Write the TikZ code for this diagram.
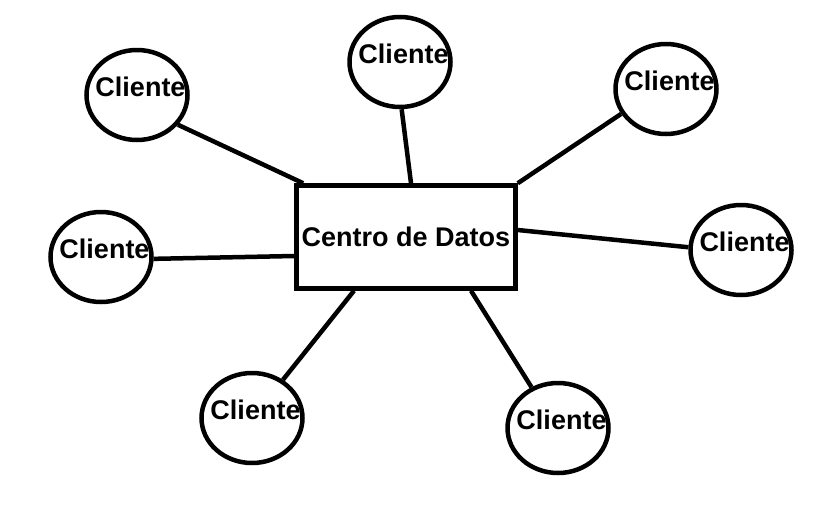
\documentclass[tikz,border=0pt]{standalone}
\usepackage{fontspec}
\setmainfont{Liberation Sans}
\usetikzlibrary{shapes.geometric}

\begin{document}
\begin{tikzpicture}[x=1pt, y=-1pt, line width=4.5pt,
    client/.style={draw, ellipse, minimum width=101pt, minimum height=90pt, inner sep=0pt,
        label={[xshift=3.5pt, yshift=8pt, font=\bfseries\fontsize{27}{30}\selectfont]center:Cliente}},
    dcbox/.style={draw, rectangle, minimum width=219pt, minimum height=103pt, inner sep=0pt,
        font=\bfseries\fontsize{27}{30}\selectfont}]
    \useasboundingbox (0,0) rectangle (827,517);

    % Centro de datos
    \node[dcbox] (dc) at (406,237) {Centro de Datos};

    % Clientes
    \node[client] (cl1) at (137,95) {};
    \node[client] (cl2) at (400,62) {};
    \node[client] (cl3) at (666,89) {};
    \node[client] (cl4) at (101,257) {};
    \node[client] (cl5) at (741,250) {};
    \node[client] (cl6) at (252,418) {};
    \node[client] (cl7) at (558,428) {};

    % Conexiones
    \draw (cl1.-36) -- ([xshift=9pt]dc.north west);
    \draw (cl2.-88) -- ([xshift=5pt]dc.north);
    \draw (cl3.-151) -- (dc.north east);
    \draw (cl4.-2) -- ([yshift=-19pt]dc.west);
    \draw (cl5.177) -- ([yshift=7pt]dc.east);
    \draw (cl6.51) -- ([xshift=-52pt]dc.south);
    \draw (cl7.123) -- ([xshift=65pt]dc.south);
\end{tikzpicture}
\end{document}
